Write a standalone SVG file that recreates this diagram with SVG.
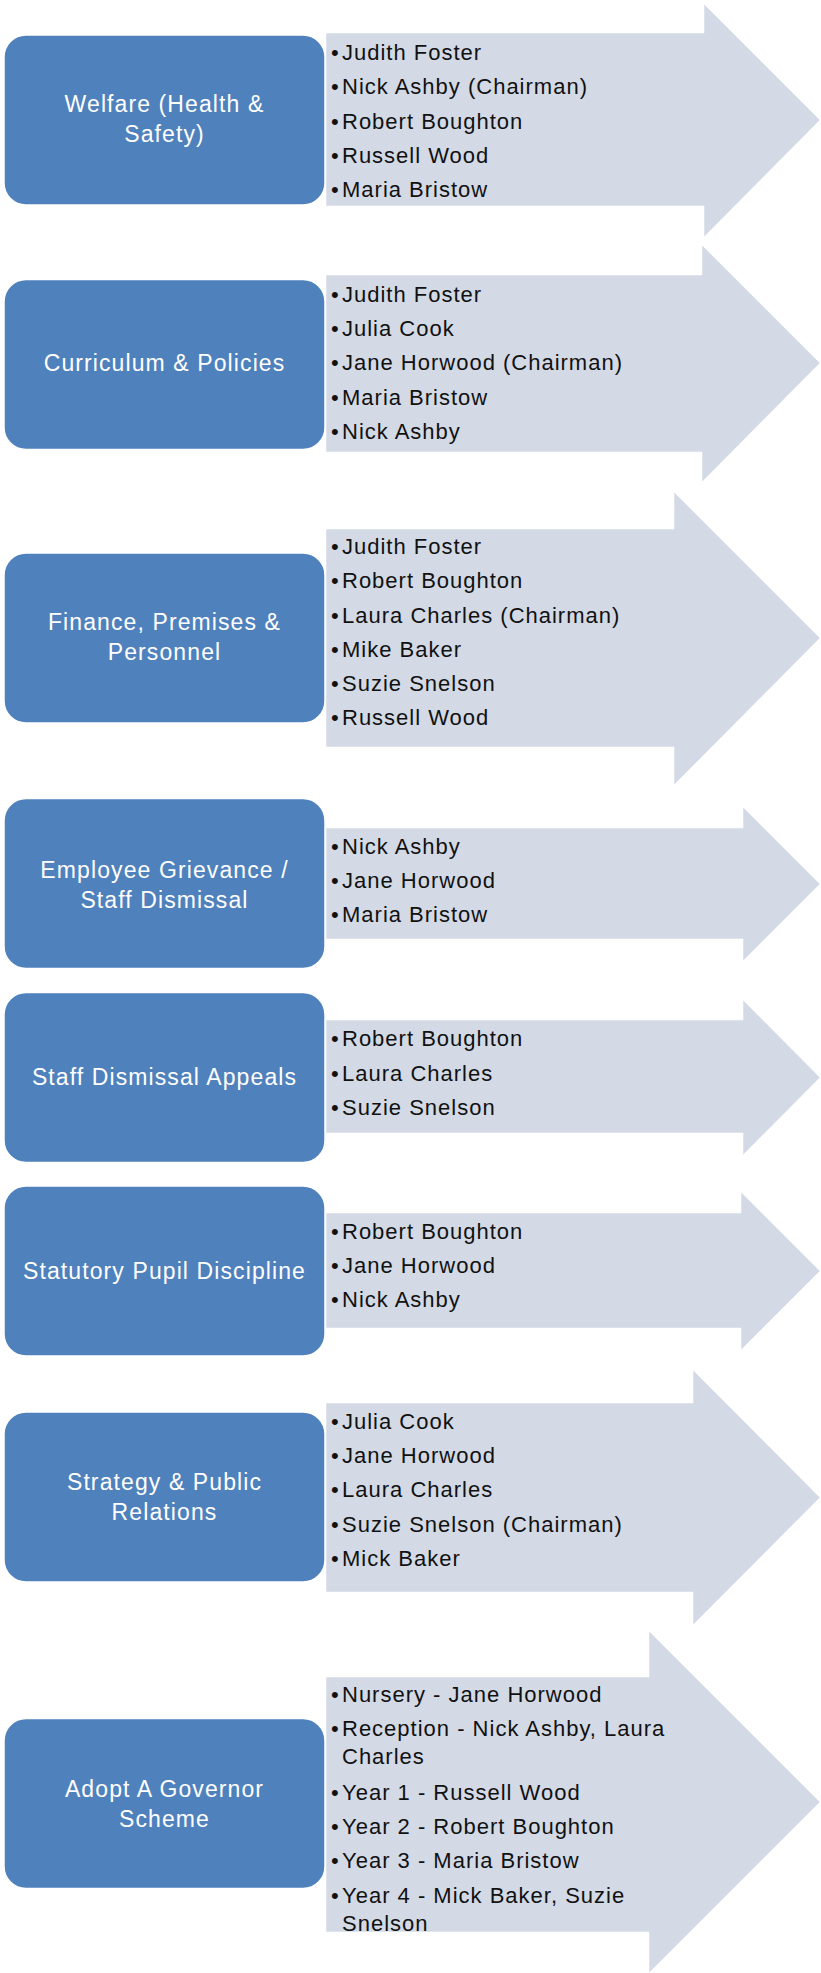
<svg xmlns="http://www.w3.org/2000/svg" width="821" height="1973" viewBox="0 0 821 1973">
  <style>
    .arrow { fill: #D3DAE6; stroke: #FFFFFF; stroke-opacity: 0.5; stroke-width: 1; }
    .box { fill: #4F81BD; stroke: #FFFFFF; stroke-width: 1.5; }
    .title { font-family: "Liberation Sans", Arial, sans-serif; font-size: 23px; fill: #FFFFFF; text-anchor: middle; letter-spacing: 1.1px; }
    .item { font-family: "Liberation Sans", Arial, sans-serif; font-size: 22px; fill: #111111; letter-spacing: 1px; }
  </style>
  <rect width="821" height="1973" fill="#FFFFFF"/>

  <!-- connectors: none, each committee row is self-contained -->
  <g id="connectors"/>

  <!-- Welfare (Health & Safety) -->
  <g id="welfare">
    <polygon class="arrow" points="326,33 704,33 704,4 820,120 704,237 704,206 326,206"/>
    <rect class="box" x="4" y="35" width="321" height="170" rx="22"/>
    <text class="title" x="164.5" y="111.7">Welfare (Health &amp;</text>
    <text class="title" x="164.5" y="141.7">Safety)</text>
    <text class="item" x="331" y="59.5">•<tspan x="342">Judith Foster</tspan></text>
    <text class="item" x="331" y="94">•<tspan x="342">Nick Ashby (Chairman)</tspan></text>
    <text class="item" x="331" y="128.5">•<tspan x="342">Robert Boughton</tspan></text>
    <text class="item" x="331" y="162.5">•<tspan x="342">Russell Wood</tspan></text>
    <text class="item" x="331" y="196.5">•<tspan x="342">Maria Bristow</tspan></text>
  </g>

  <!-- Curriculum & Policies -->
  <g id="curriculum">
    <polygon class="arrow" points="326,275 702,275 702,245 820,363 702,482 702,452 326,452"/>
    <rect class="box" x="4" y="279.5" width="321" height="170" rx="22"/>
    <text class="title" x="164.5" y="371">Curriculum &amp; Policies</text>
    <text class="item" x="331" y="301.5">•<tspan x="342">Judith Foster</tspan></text>
    <text class="item" x="331" y="335.9">•<tspan x="342">Julia Cook</tspan></text>
    <text class="item" x="331" y="370.3">•<tspan x="342">Jane Horwood (Chairman)</tspan></text>
    <text class="item" x="331" y="404.7">•<tspan x="342">Maria Bristow</tspan></text>
    <text class="item" x="331" y="439.1">•<tspan x="342">Nick Ashby</tspan></text>
  </g>

  <!-- Finance, Premises & Personnel -->
  <g id="finance">
    <polygon class="arrow" points="326,529 674,529 674,492 820,638 674,785 674,747 326,747"/>
    <rect class="box" x="4" y="553" width="321" height="170" rx="22"/>
    <text class="title" x="164.5" y="629.5">Finance, Premises &amp;</text>
    <text class="title" x="164.5" y="659.5">Personnel</text>
    <text class="item" x="331" y="553.5">•<tspan x="342">Judith Foster</tspan></text>
    <text class="item" x="331" y="588.3">•<tspan x="342">Robert Boughton</tspan></text>
    <text class="item" x="331" y="622.6">•<tspan x="342">Laura Charles (Chairman)</tspan></text>
    <text class="item" x="331" y="656.5">•<tspan x="342">Mike Baker</tspan></text>
    <text class="item" x="331" y="690.6">•<tspan x="342">Suzie Snelson</tspan></text>
    <text class="item" x="331" y="725">•<tspan x="342">Russell Wood</tspan></text>
  </g>

  <!-- Employee Grievance / Staff Dismissal -->
  <g id="grievance">
    <polygon class="arrow" points="326,828 743,828 743,807 820,884 743,961 743,939 326,939"/>
    <rect class="box" x="4" y="798.5" width="321" height="170" rx="22"/>
    <text class="title" x="164.5" y="877.7">Employee Grievance /</text>
    <text class="title" x="164.5" y="907.5">Staff Dismissal</text>
    <text class="item" x="331" y="853.5">•<tspan x="342">Nick Ashby</tspan></text>
    <text class="item" x="331" y="888">•<tspan x="342">Jane Horwood</tspan></text>
    <text class="item" x="331" y="922">•<tspan x="342">Maria Bristow</tspan></text>
  </g>

  <!-- Staff Dismissal Appeals -->
  <g id="appeals">
    <polygon class="arrow" points="326,1020 743,1020 743,1000 820,1077.5 743,1155 743,1133 326,1133"/>
    <rect class="box" x="4" y="992.5" width="321" height="170" rx="22"/>
    <text class="title" x="164.5" y="1085">Staff Dismissal Appeals</text>
    <text class="item" x="331" y="1046">•<tspan x="342">Robert Boughton</tspan></text>
    <text class="item" x="331" y="1080.5">•<tspan x="342">Laura Charles</tspan></text>
    <text class="item" x="331" y="1114.5">•<tspan x="342">Suzie Snelson</tspan></text>
  </g>

  <!-- Statutory Pupil Discipline -->
  <g id="discipline">
    <polygon class="arrow" points="326,1213 741,1213 741,1192 820,1271 741,1350 741,1328 326,1328"/>
    <rect class="box" x="4" y="1186" width="321" height="170" rx="22"/>
    <text class="title" x="164.5" y="1278.5">Statutory Pupil Discipline</text>
    <text class="item" x="331" y="1238.5">•<tspan x="342">Robert Boughton</tspan></text>
    <text class="item" x="331" y="1273">•<tspan x="342">Jane Horwood</tspan></text>
    <text class="item" x="331" y="1307">•<tspan x="342">Nick Ashby</tspan></text>
  </g>

  <!-- Strategy & Public Relations -->
  <g id="strategy">
    <polygon class="arrow" points="326,1403 693,1403 693,1370 820,1497.5 693,1625 693,1592 326,1592"/>
    <rect class="box" x="4" y="1412" width="321" height="170" rx="22"/>
    <text class="title" x="164.5" y="1489.5">Strategy &amp; Public</text>
    <text class="title" x="164.5" y="1520">Relations</text>
    <text class="item" x="331" y="1429">•<tspan x="342">Julia Cook</tspan></text>
    <text class="item" x="331" y="1463.2">•<tspan x="342">Jane Horwood</tspan></text>
    <text class="item" x="331" y="1497.4">•<tspan x="342">Laura Charles</tspan></text>
    <text class="item" x="331" y="1531.6">•<tspan x="342">Suzie Snelson (Chairman)</tspan></text>
    <text class="item" x="331" y="1565.8">•<tspan x="342">Mick Baker</tspan></text>
  </g>

  <!-- Adopt A Governor Scheme -->
  <g id="adopt-a-governor">
    <polygon class="arrow" points="326,1677 649,1677 649,1631 820,1802 649,1973 649,1932 326,1932"/>
    <rect class="box" x="4" y="1718.5" width="321" height="170" rx="22"/>
    <text class="title" x="164.5" y="1796.7">Adopt A Governor</text>
    <text class="title" x="164.5" y="1826.7">Scheme</text>
    <text class="item" x="331" y="1701.5">•<tspan x="342">Nursery - Jane Horwood</tspan></text>
    <text class="item" x="331" y="1735.7">•<tspan x="342">Reception - Nick Ashby, Laura</tspan></text>
    <text class="item" x="342" y="1764">Charles</text>
    <text class="item" x="331" y="1799.7">•<tspan x="342">Year 1 - Russell Wood</tspan></text>
    <text class="item" x="331" y="1834">•<tspan x="342">Year 2 - Robert Boughton</tspan></text>
    <text class="item" x="331" y="1868">•<tspan x="342">Year 3 - Maria Bristow</tspan></text>
    <text class="item" x="331" y="1903">•<tspan x="342">Year 4 - Mick Baker, Suzie</tspan></text>
    <text class="item" x="342" y="1931.3">Snelson</text>
  </g>
</svg>
